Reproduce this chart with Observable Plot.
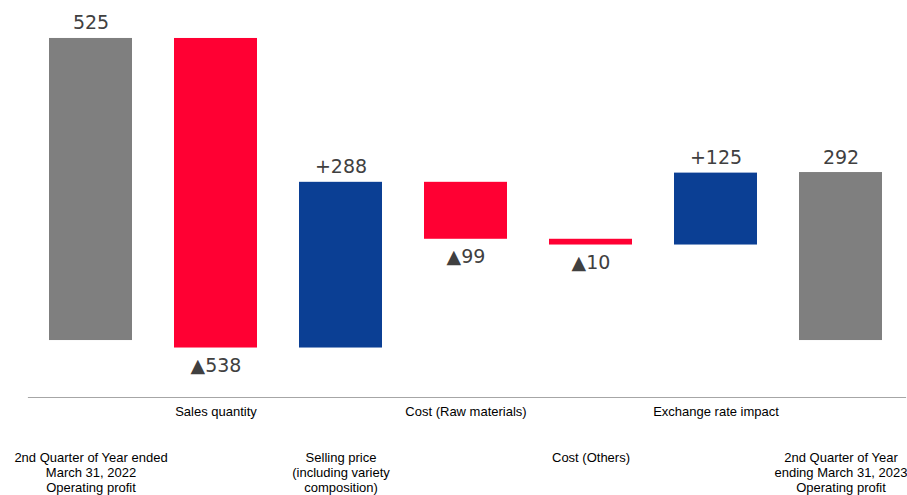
<!DOCTYPE html>
<html>
<head>
<meta charset="utf-8">
<script src="https://cdn.jsdelivr.net/npm/d3@7"></script>
<script src="https://cdn.jsdelivr.net/npm/@observablehq/plot@0.6"></script>
<style>
  html, body { margin: 0; padding: 0; background: #fff; }
  #chart svg { display: block; }
</style>
</head>
<body>
<div id="chart"></div>
<script>
const categories = [
  "2nd Quarter of Year ended\nMarch 31, 2022\nOperating profit",
  "Sales quantity",
  "Selling price\n(including variety\ncomposition)",
  "Cost (Raw materials)",
  "Cost (Others)",
  "Exchange rate impact",
  "2nd Quarter of Year\nending March 31, 2023\nOperating profit"
];
const values = [525, -538, 288, -99, -10, 125, 292];
const kinds = ["total", "delta", "delta", "delta", "delta", "delta", "total"];
const valueLabels = ["525", "▲538", "+288", "▲99", "▲10", "+125", "292"];

const colors = { total: "#7f7f7f", down: "#ff0033", up: "#0b3f94" };

let running = 0;
const data = categories.map((c, i) => {
  let y1, y2, kind;
  if (kinds[i] === "total") {
    y1 = 0; y2 = values[i]; running = values[i]; kind = "total";
  } else {
    y1 = running; y2 = running + values[i]; running = y2;
    kind = values[i] < 0 ? "down" : "up";
  }
  return {
    cat: c, y1, y2, kind, label: valueLabels[i],
    top: Math.max(y1, y2), bottom: Math.min(y1, y2),
    row: i % 2
  };
});

const chart = Plot.plot({
  width: 907,
  height: 495,
  marginTop: 0,
  marginBottom: 98,
  marginLeft: 28,
  marginRight: 4,
  x: { domain: categories, paddingInner: 0.336, paddingOuter: 0.168, axis: null },
  y: { domain: [-99, 591], axis: null },
  marks: [
    Plot.frame({ anchor: "bottom", stroke: "#a6a6a6", strokeWidth: 1.2, insetRight: -2 }),
    Plot.barY(data, {
      x: "cat", y1: "y1", y2: "y2",
      fill: d => colors[d.kind]
    }),
    Plot.text(data.filter(d => d.kind !== "down"), {
      x: "cat", y: "top", text: "label",
      lineAnchor: "bottom", dy: -9,
      fontSize: 19, fill: "#404040",
      fontFamily: "DejaVu Sans, Verdana, sans-serif"
    }),
    Plot.text(data.filter(d => d.kind === "down"), {
      x: "cat", y: "bottom", text: "label",
      lineAnchor: "top", dy: 10,
      fontSize: 19, fill: "#404040",
      fontFamily: "DejaVu Sans, Verdana, sans-serif"
    }),
    Plot.text(data.filter(d => d.row === 1), {
      x: "cat", text: "cat", frameAnchor: "bottom",
      lineAnchor: "top", dy: 8,
      fontSize: 13, fill: "#000", lineHeight: 1.15,
      fontFamily: "Liberation Sans, Arial, sans-serif"
    }),
    Plot.text(data.filter(d => d.row === 0), {
      x: "cat", text: "cat", frameAnchor: "bottom",
      lineAnchor: "top", dy: 54,
      fontSize: 13, fill: "#000", lineHeight: 1.15,
      fontFamily: "Liberation Sans, Arial, sans-serif"
    })
  ]
});
document.getElementById("chart").appendChild(chart);
</script>
</body>
</html>
